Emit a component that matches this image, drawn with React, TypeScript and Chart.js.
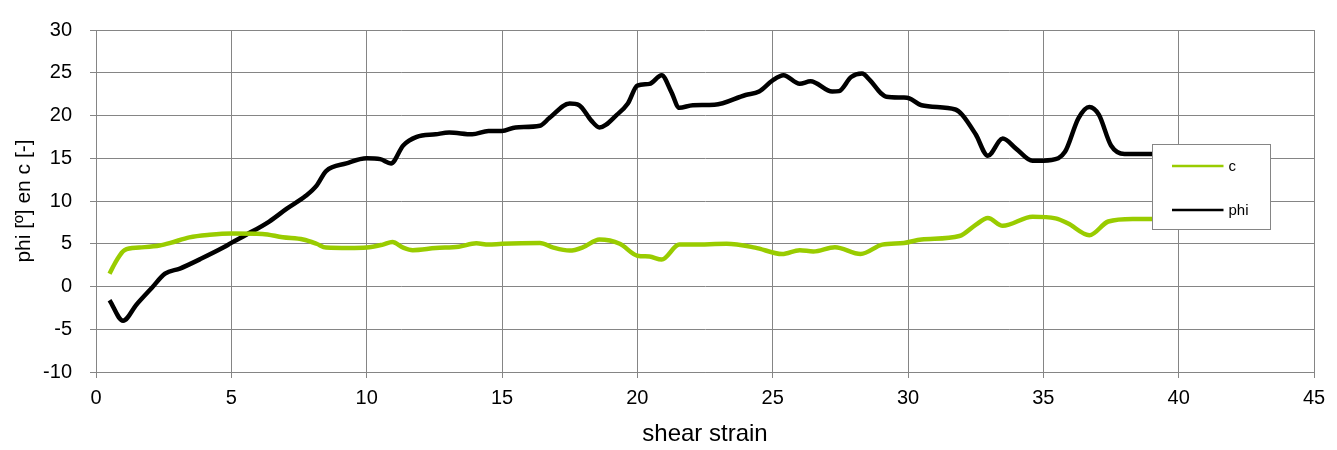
import React, { useEffect, useRef } from "react";
import { Chart, registerables } from "chart.js";

Chart.register(...registerables);

const strainPhi = [0.5, 1.0, 1.5, 2.05, 2.55, 3.1, 3.85, 4.7, 5.0, 5.55, 6.4, 7.05, 7.75, 8.15, 8.5, 9.25, 10.0, 10.5, 10.9, 11.35, 11.85, 12.55, 13.05, 13.9, 14.5, 15.0, 15.5, 16.4, 16.75, 17.5, 17.85, 18.3, 18.6, 19.25, 19.65, 20.0, 20.45, 20.9, 21.25, 21.55, 22.05, 22.85, 24.0, 24.5, 25.0, 25.4, 26.0, 26.4, 27.2, 27.45, 27.9, 28.3, 28.6, 29.0, 29.2, 29.85, 30.05, 30.5, 31.75, 32.0, 32.5, 32.95, 33.5, 34.0, 34.6, 35.3, 35.8, 36.3, 36.7, 37.05, 37.5, 38.0, 39.0, 39.5];
const phiValues = [-1.6, -4.0, -2.1, -0.2, 1.5, 2.1, 3.2, 4.55, 5.1, 6.05, 7.6, 9.1, 10.6, 11.8, 13.5, 14.4, 15.0, 14.9, 14.4, 16.5, 17.5, 17.8, 18.0, 17.8, 18.2, 18.2, 18.6, 18.8, 19.7, 21.4, 21.2, 19.4, 18.6, 20.1, 21.4, 23.5, 23.7, 24.7, 22.8, 20.9, 21.2, 21.25, 22.4, 22.8, 24.1, 24.7, 23.7, 24.0, 22.8, 22.85, 24.5, 24.9, 24.1, 22.6, 22.2, 22.1, 22.0, 21.2, 20.7, 20.1, 17.8, 15.3, 17.3, 16.1, 14.7, 14.8, 15.75, 19.7, 21.0, 20.1, 16.5, 15.5, 15.5, 15.5];

const strainC = [0.5, 0.75, 1.05, 1.6, 2.35, 2.75, 3.45, 4.2, 5.0, 6.15, 6.9, 7.65, 8.15, 8.5, 9.35, 10.0, 10.6, 10.95, 11.35, 11.7, 12.55, 13.4, 14.05, 14.5, 15.0, 16.4, 16.9, 17.5, 18.0, 18.6, 19.35, 20.0, 20.45, 20.9, 21.55, 22.05, 23.3, 24.35, 25.35, 26.0, 26.5, 27.3, 28.25, 29.05, 29.85, 30.5, 31.9, 32.5, 32.95, 33.5, 34.6, 35.45, 35.9, 36.7, 37.4, 38.3, 39.0, 39.5];
const cValues = [1.5, 3.0, 4.25, 4.55, 4.8, 5.1, 5.75, 6.05, 6.2, 6.15, 5.75, 5.5, 5.0, 4.55, 4.5, 4.55, 4.9, 5.2, 4.55, 4.25, 4.5, 4.65, 5.05, 4.9, 5.0, 5.1, 4.55, 4.2, 4.6, 5.5, 5.0, 3.6, 3.5, 3.15, 4.9, 4.9, 5.0, 4.55, 3.8, 4.25, 4.1, 4.6, 3.8, 4.9, 5.1, 5.5, 5.9, 7.2, 8.0, 7.1, 8.15, 7.97, 7.4, 6.0, 7.6, 7.9, 7.9, 7.9];

const seriesLabels = ["c", "phi"];
const seriesColors = ["#99cc00", "#000000"];
const xTitle = "shear strain";
const yTitle = "phi [º] en c [-]";

const FONT = "'Liberation Sans', Arial, sans-serif";
const GRID = "#858585";

const legendPlugin = {
  id: "boxLegend",
  afterDraw(chart: any) {
    const { ctx, chartArea } = chart;
    const left = chartArea.right - 161.5;
    const top = chartArea.top + 114.5;
    const w = 118;
    const h = 85;
    ctx.save();
    ctx.fillStyle = "#ffffff";
    ctx.fillRect(left, top, w, h);
    ctx.strokeStyle = GRID;
    ctx.lineWidth = 1;
    ctx.strokeRect(left, top, w, h);
    const rows = [top + 21.5, top + 65.5];
    seriesLabels.forEach((lab, i) => {
      ctx.strokeStyle = seriesColors[i];
      ctx.lineWidth = 2.5;
      ctx.beginPath();
      ctx.moveTo(left + 19.5, rows[i]);
      ctx.lineTo(left + 71, rows[i]);
      ctx.stroke();
      ctx.fillStyle = "#000";
      ctx.font = `15px ${FONT}`;
      ctx.textBaseline = "middle";
      ctx.textAlign = "left";
      ctx.fillText(lab, left + 76, rows[i] + 1);
    });
    ctx.restore();
  },
};

export default function App() {
  const ref = useRef<HTMLCanvasElement>(null);
  useEffect(() => {
    document.body.style.margin = "0";
    const cPts = strainC.map((x, i) => ({ x, y: cValues[i] }));
    const pPts = strainPhi.map((x, i) => ({ x, y: phiValues[i] }));
    const chart = new Chart(ref.current as HTMLCanvasElement, {
      type: "line",
      data: {
        datasets: [
          {
            label: seriesLabels[0],
            data: cPts,
            borderColor: seriesColors[0],
            backgroundColor: seriesColors[0],
            borderWidth: 4.5,
            pointRadius: 0,
            cubicInterpolationMode: "monotone",
            fill: false,
          },
          {
            label: seriesLabels[1],
            data: pPts,
            borderColor: seriesColors[1],
            backgroundColor: seriesColors[1],
            borderWidth: 4.5,
            pointRadius: 0,
            cubicInterpolationMode: "monotone",
            fill: false,
          },
        ],
      },
      options: {
        responsive: false,
        animation: false,
        layout: { padding: { top: 20, right: 23, left: 0, bottom: 0 } },
        plugins: { legend: { display: false }, tooltip: { enabled: false } },
        scales: {
          x: {
            type: "linear",
            min: 0,
            max: 45,
            ticks: { stepSize: 5, color: "#000", font: { size: 20, family: FONT }, padding: 8, maxRotation: 0 },
            grid: { color: GRID, tickLength: 6, tickColor: GRID },
            border: { color: GRID },
            title: { display: true, text: xTitle, color: "#000", font: { size: 24, family: FONT }, padding: { top: 0, bottom: 1 } },
            afterFit(scale: any) {
              scale.height = 78;
            },
          },
          y: {
            min: -10,
            max: 30,
            ticks: { stepSize: 5, color: "#000", font: { size: 20, family: FONT }, padding: 18 },
            grid: { color: GRID, tickLength: 6, tickColor: GRID },
            border: { color: GRID },
            title: { display: true, text: yTitle, color: "#000", font: { size: 21, family: FONT }, padding: { top: 12, bottom: 0 } },
            afterFit(scale: any) {
              scale.width = 96;
            },
          },
        },
      },
      plugins: [legendPlugin],
    } as any);
    return () => chart.destroy();
  }, []);
  return <canvas ref={ref} width={1337} height={450} style={{ display: "block" }} />;
}
